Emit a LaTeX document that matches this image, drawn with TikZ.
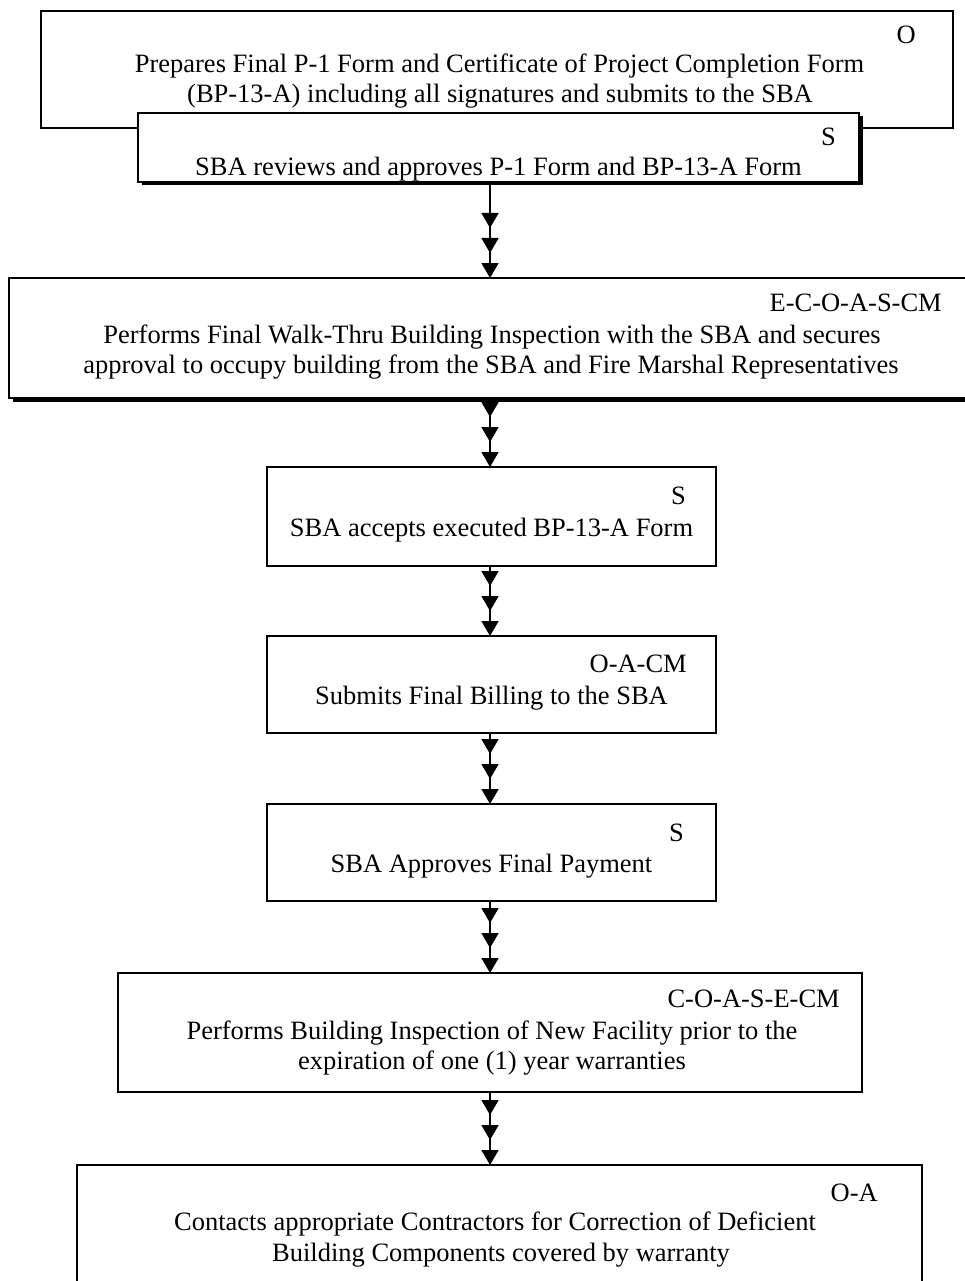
\documentclass[tikz,border=0pt]{standalone}
\usepackage{fontspec}
\setmainfont{Liberation Serif}
\usetikzlibrary{arrows.meta,decorations.markings,shadows}
\begin{document}
\begin{tikzpicture}[x=1pt,y=-1pt,
  box/.style={draw=black, line width=1.6pt, fill=white, inner sep=0pt, outer sep=0pt},
  shadowed/.style={drop shadow={shadow xshift=3.5pt, shadow yshift=-3.5pt, fill=black, opacity=1}},
  txt/.style={anchor=base, inner sep=0pt, font=\fontsize{26.5}{30}\selectfont},
  lbl/.style={txt, anchor=base east},
  tip/.tip={Triangle[width=17pt,length=15pt]},
  chain/.style={line width=1.6pt, -tip,
    postaction={decorate},
    decoration={markings,
      mark=at position -25pt with {\arrow{tip}},
      mark=at position -50pt with {\arrow{tip}}}}
]
\useasboundingbox (0,0) rectangle (965,1281);
\coordinate (ax) at (490,0);

% Step 1 and the overlapping review box
\node[box, minimum width=912pt, minimum height=117pt] (b1) at (497,69.5) {};
\node[lbl] (l1) at (916,44) {O};
\node[txt] (t1a) at (499.5,73) {Prepares Final P-1 Form and Certificate of Project Completion Form};
\node[txt] (t1b) at (500,103) {(BP-13-A) including all signatures and submits to the SBA};

\node[box, shadowed, minimum width=721pt, minimum height=69pt] (b2) at (498.5,147.5) {};
\node[lbl] (l2) at (836,146) {S};
\node[txt] (t2) at (498.5,176) {SBA reviews and approves P-1 Form and BP-13-A Form};

% Final walk-thru
\node[box, shadowed, minimum width=958pt, minimum height=120pt] (b3) at (488,338) {};
\node[lbl] (l3) at (942,311) {E-C-O-A-S-CM};
\node[txt] (t3a) at (492,343) {Performs Final Walk-Thru Building Inspection with the SBA and secures};
\node[txt] (t3b) at (491,373) {approval to occupy building from the SBA and Fire Marshal Representatives};

% Acceptance, billing and payment
\node[box, minimum width=449pt, minimum height=99pt] (b4) at (491.5,516.5) {};
\node[lbl] (l4) at (686,504) {S};
\node[txt] (t4) at (491.5,536) {SBA accepts executed BP-13-A Form};

\node[box, minimum width=449pt, minimum height=97pt] (b5) at (491.5,684.5) {};
\node[lbl] (l5) at (687,672) {O-A-CM};
\node[txt] (t5) at (491.5,704) {Submits Final Billing to the SBA};

\node[box, minimum width=449pt, minimum height=97pt] (b6) at (491.5,852.5) {};
\node[lbl] (l6) at (684,841) {S};
\node[txt] (t6) at (491.5,872) {SBA Approves Final Payment};

% Warranty inspection and corrections
\node[box, minimum width=744pt, minimum height=119pt] (b7) at (490,1032.5) {};
\node[lbl] (l7) at (840,1007) {C-O-A-S-E-CM};
\node[txt] (t7a) at (492,1039) {Performs Building Inspection of New Facility prior to the};
\node[txt] (t7b) at (492,1069) {expiration of one (1) year warranties};

\node[box, minimum width=845pt, minimum height=126pt] (b8) at (499.5,1228) {};
\node[lbl] (l8) at (878,1201) {O-A};
\node[txt] (t8a) at (495,1230) {Contacts appropriate Contractors for Correction of Deficient};
\node[txt] (t8b) at (501,1261) {Building Components covered by warranty};

% Connectors between steps
\draw[chain] (b2.south -| ax) -- (b3.north -| ax);
\draw[chain] (b3.south -| ax) -- (b4.north -| ax);
\draw[chain] (b4.south -| ax) -- (b5.north -| ax);
\draw[chain] (b5.south -| ax) -- (b6.north -| ax);
\draw[chain] (b6.south -| ax) -- (b7.north -| ax);
\draw[chain] (b7.south -| ax) -- (b8.north -| ax);
\end{tikzpicture}
\end{document}
